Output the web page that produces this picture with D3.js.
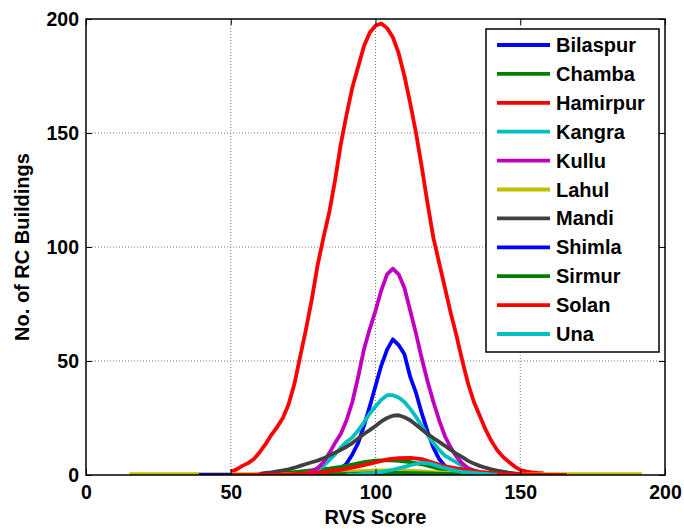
<!DOCTYPE html>
<html><head><meta charset="utf-8">
<script src="https://cdn.jsdelivr.net/npm/d3@7/dist/d3.min.js"></script>
<style>body{margin:0;background:#fff}svg{display:block}text{font-family:"Liberation Sans",Arial,sans-serif;font-weight:bold}</style>
</head><body>
<svg id="c" width="684" height="529"></svg>
<script>
const districts = ["Bilaspur","Chamba","Hamirpur","Kangra","Kullu","Lahul","Mandi","Shimla","Sirmur","Solan","Una"];
const colors = ["#0000ff","#008000","#ff0000","#00bfbf","#bf00bf","#bfbf00","#404040","#0000ff","#008000","#ff0000","#00bfbf"];
const xTicks = [0,50,100,150,200];
const yTicks = [0,50,100,150,200];

// [RVS score, count] pairs
const bilaspur = [[80,0],[82,0.3],[84,0.6],[86,1.5],[88,2.8],[90,5],[92,9],[94,14],[96,21.5],[98,30],[100,39],[102,48],[104,55],[106,59.5],[108,57],[110,53],[112,43],[114,36],[116,27],[118,19],[120,12],[122,7],[124,4],[126,2],[128,1],[130,0.5],[132,0.2]];
const chamba = [[60,0.3],[64,0.5],[68,0.9],[72,1.3],[76,1.8],[80,2.3],[84,2.8],[88,3.6],[92,4.6],[96,5.6],[100,6.3],[104,6.5],[108,6.2],[112,5.7],[116,4.7],[120,3.4],[124,2],[128,1.1],[132,0.7],[136,0.5],[140,0.4],[144,0.3],[146,0.2]];
const hamirpur = [[50,1.2],[52,2.5],[54,4],[56,5.2],[58,7],[60,10],[62,13.5],[64,17.5],[66,21],[68,25],[70,31],[72,40],[74,52],[76,64],[78,77],[80,92],[82,104],[84,115],[86,129],[88,145],[90,158],[92,170],[94,179],[96,188],[98,194],[100,197],[102,198],[104,196],[106,192],[108,185],[110,175],[112,163],[114,150],[116,135],[118,119],[120,104],[122,93],[124,82],[126,71],[128,61],[130,50],[132,40],[134,32],[136,26],[138,20],[140,15],[142,11],[144,8],[146,5.8],[148,3.8],[150,2.2],[152,1.6],[154,1.2],[156,0.9],[158,0.8]];
const kangra = [[74,0.3],[76,0.7],[78,1.4],[80,2.3],[82,4],[84,6.5],[86,9],[88,12],[90,14.5],[92,16.5],[94,19.5],[96,23],[98,27],[100,30],[102,33],[104,35],[106,35],[108,34],[110,32],[112,29],[114,25.5],[116,21.5],[118,17.5],[120,14],[122,11],[124,8.5],[126,7],[128,5.5],[130,4],[132,2.8],[134,2],[136,1.3],[138,0.8],[140,0.5],[142,0.3]];
const kullu = [[74,0.3],[76,0.8],[78,1.8],[80,3],[82,5.5],[84,9.5],[86,14],[88,18],[90,24],[92,32],[94,43],[96,55],[98,64],[100,72],[102,81],[104,88],[106,90.5],[108,88],[110,82],[112,72],[114,62],[116,51],[118,41],[120,32],[122,24],[124,17],[126,12],[128,8],[130,5],[132,3],[134,2],[136,1.2],[138,0.6],[140,0.3]];
const lahul = [[15,0.4],[40,0.4],[60,0.4],[75,0.5],[85,0.9],[90,1.3],[95,1.7],[100,2],[105,2],[110,1.9],[115,1.7],[120,1.3],[125,0.9],[130,0.6],[140,0.4],[150,0.4],[165,0.4],[192,0.4]];
const mandi = [[60,0.5],[62,0.9],[64,1.2],[66,1.6],[68,2],[70,2.5],[72,3.2],[74,4],[76,4.8],[78,5.6],[80,6.3],[82,7.3],[84,8.5],[86,9.8],[88,11],[90,12.4],[92,14],[94,16],[96,18],[98,19.7],[100,21.5],[102,23.5],[104,25],[106,26],[108,26.2],[110,25.3],[112,24],[114,22],[116,20],[118,18],[120,16.2],[122,14.5],[124,12.8],[126,11],[128,9.3],[130,7.8],[132,6.2],[134,5],[136,4],[138,3.2],[140,2.5],[142,1.9],[144,1.5],[146,1],[148,0.7],[150,0.4],[152,0.2]];
const shimla = [[39,0],[80,0],[90,0.2],[100,0.4],[110,0.5],[120,0.3],[130,0.1],[150,0]];
const sirmur = [[60,0],[80,0.2],[95,0.6],[105,0.9],[115,0.8],[125,0.4],[135,0.2],[146,0]];
const solan = [[50,0],[60,0.1],[70,0.3],[76,0.6],[80,1],[84,1.6],[88,2.3],[92,3.2],[96,4.3],[100,5.5],[104,6.8],[108,7.4],[112,7.5],[116,7],[120,5.3],[124,3.8],[128,2.9],[132,2.1],[136,1.4],[140,0.9],[144,0.5],[148,0.3],[152,0.2],[156,0.1],[160,0],[166,0]];
const una = [[90,0.1],[94,0.3],[98,0.7],[102,1.3],[106,2.3],[110,3.6],[113,4.6],[116,5.4],[119,5],[122,3.8],[125,2.7],[128,1.8],[131,1.2],[134,0.9],[137,0.6],[140,0.3],[142,0.2]];
const series = [bilaspur,chamba,hamirpur,kangra,kullu,lahul,mandi,shimla,sirmur,solan,una];

const svg = d3.select("#c");
const L=86,R=665,T=19,B=475;
const x = d3.scaleLinear().domain([0,200]).range([L,R]);
const y = d3.scaleLinear().domain([0,200]).range([B,T]);

// grid
const g = svg.append("g");
g.selectAll(".gx").data(xTicks.slice(1,-1)).join("line")
 .attr("x1",d=>x(d)).attr("x2",d=>x(d)).attr("y1",T).attr("y2",B)
 .attr("stroke","#7a7a7a").attr("stroke-width",1).attr("stroke-dasharray","1,2");
g.selectAll(".gy").data(yTicks.slice(1,-1)).join("line")
 .attr("y1",d=>y(d)).attr("y2",d=>y(d)).attr("x1",L).attr("x2",R)
 .attr("stroke","#7a7a7a").attr("stroke-width",1).attr("stroke-dasharray","1,2");

// lines
const line = d3.line().x(d=>x(d[0])).y(d=>y(d[1]));
svg.append("clipPath").attr("id","pc").append("rect").attr("x",L).attr("y",T-3).attr("width",R-L).attr("height",B-T+3);
series.forEach((s,i)=>{
  svg.append("path").attr("d",line(s)).attr("fill","none").attr("stroke",colors[i])
   .attr("stroke-width",3.8).attr("stroke-linejoin","round").attr("clip-path","url(#pc)");
});

// axes
const ax = svg.append("g");
const styleText = a=>{a.select(".domain").remove();a.selectAll("text").attr("font-size",19.5).attr("font-weight","bold").attr("font-family","Liberation Sans, Arial, sans-serif").attr("fill","#000");};
ax.append("g").attr("transform",`translate(0,${B})`).call(d3.axisBottom(x).tickValues(xTicks).tickSize(-6).tickPadding(10)).call(styleText);
ax.append("g").attr("transform",`translate(${L},0)`).call(d3.axisLeft(y).tickValues(yTicks).tickSize(-6).tickPadding(7)).call(styleText);
ax.append("g").attr("transform",`translate(0,${T})`).call(d3.axisTop(x).tickValues(xTicks).tickSize(-6).tickFormat(""))
 .call(a=>a.select(".domain").remove());
ax.append("g").attr("transform",`translate(${R},0)`).call(d3.axisRight(y).tickValues(yTicks).tickSize(-6).tickFormat(""))
 .call(a=>a.select(".domain").remove());
svg.append("rect").attr("x",L).attr("y",T).attr("width",R-L).attr("height",B-T).attr("fill","none").attr("stroke","#000").attr("stroke-width",1.5);

// axis labels
svg.append("text").attr("x",(L+R)/2).attr("y",524).attr("text-anchor","middle").attr("font-size",20).text("RVS Score");
svg.append("text").attr("transform",`translate(29,${(T+B)/2}) rotate(-90)`).attr("text-anchor","middle").attr("font-size",20).text("No. of RC Buildings");

// legend
const lg = svg.append("g");
lg.append("rect").attr("x",486).attr("y",29).attr("width",173).attr("height",323).attr("fill","#fff").attr("stroke","#000").attr("stroke-width",1.5);
districts.forEach((d,i)=>{
  const yy = 45 + i*28.9;
  lg.append("line").attr("x1",497).attr("x2",550).attr("y1",yy).attr("y2",yy).attr("stroke",colors[i]).attr("stroke-width",3.8);
  lg.append("text").attr("x",556).attr("y",yy+7).attr("font-size",20).text(d);
});
</script>
</body></html>
